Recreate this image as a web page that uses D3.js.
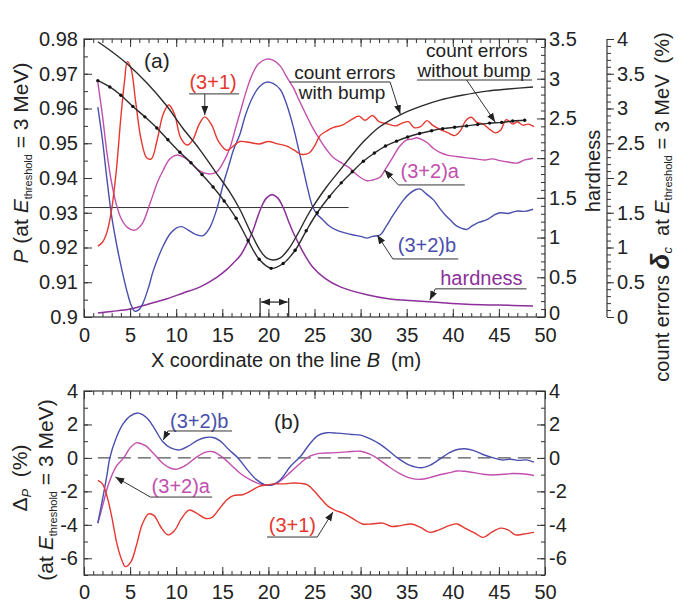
<!DOCTYPE html>
<html>
<head>
<meta charset="utf-8">
<script src="https://cdn.jsdelivr.net/npm/d3@7"></script>
<style>
  html, body { margin: 0; padding: 0; background: #fff; }
  svg text { font-family: "Liberation Sans", Arial, Helvetica, sans-serif; fill: #222; }
</style>
</head>
<body>
<svg id="chart" width="678" height="605"></svg>
<script>
// ---------- tick values ----------
const xTicks = [0, 5, 10, 15, 20, 25, 30, 35, 40, 45, 50];
const pTicks = [0.9, 0.91, 0.92, 0.93, 0.94, 0.95, 0.96, 0.97, 0.98];
const hardTicks = [0, 0.5, 1, 1.5, 2, 2.5, 3, 3.5];
const errTicks = [0, 0.5, 1, 1.5, 2, 2.5, 3, 3.5, 4];
const dTicks = [-6, -4, -2, 0, 2, 4];

// ---------- panel (a): P at E_threshold = 3 MeV, [X (m), P] ----------
const p31 = [[1.5,0.9204],[2,0.9215],[2.5,0.9245],[3,0.931],[3.5,0.942],[4,0.9575],[4.4,0.968],[4.7,0.9735],[5.1,0.9715],[5.6,0.962],[6.2,0.951],[6.8,0.9458],[7.3,0.9455],[7.9,0.9505],[8.6,0.9585],[9.2,0.961],[9.8,0.9585],[10.5,0.9515],[11.2,0.9495],[11.8,0.951],[12.5,0.9555],[13.1,0.9576],[13.8,0.9555],[14.6,0.9505],[15.5,0.948],[16.2,0.9492],[16.9,0.9505],[18,0.9502],[19,0.9498],[20,0.9505],[21,0.9498],[22,0.9492],[22.8,0.948],[23.6,0.9468],[24.4,0.9472],[25,0.9492],[25.6,0.9522],[26.3,0.9535],[27,0.9545],[28,0.9552],[29,0.9568],[29.8,0.9578],[30.5,0.9566],[31.3,0.958],[32,0.9562],[33,0.9555],[33.8,0.955],[34.5,0.9558],[35.2,0.9562],[35.8,0.9545],[36.5,0.9548],[37.2,0.9565],[37.8,0.9552],[38.6,0.954],[39.5,0.953],[40.2,0.9522],[40.8,0.9535],[41.4,0.9565],[42,0.9575],[42.6,0.956],[43.3,0.9555],[44,0.954],[44.6,0.953],[45.2,0.9538],[45.8,0.9568],[46.5,0.9555],[47,0.9562],[47.6,0.9552],[48.2,0.9555],[48.8,0.9548]];

const p32a = [[1.5,0.9675],[2,0.958],[2.5,0.947],[3,0.9385],[3.5,0.9325],[4,0.9285],[4.7,0.9258],[5.5,0.925],[6.3,0.9268],[7.2,0.933],[8,0.939],[8.6,0.9423],[9.3,0.9455],[10.1,0.9466],[10.8,0.946],[11.5,0.9446],[12.3,0.9425],[13.1,0.9414],[13.8,0.9412],[14.4,0.9418],[15,0.944],[15.8,0.9485],[16.4,0.954],[17,0.9595],[17.6,0.965],[18.2,0.9695],[18.9,0.9728],[19.8,0.9742],[20.6,0.9738],[21.3,0.9722],[22,0.969],[22.7,0.966],[23.4,0.962],[24.2,0.9576],[24.9,0.954],[25.6,0.951],[26.3,0.9482],[27,0.946],[28,0.9442],[28.8,0.9429],[29.8,0.9405],[30.7,0.9392],[31.4,0.9395],[32.1,0.9402],[32.8,0.943],[33.5,0.946],[34.2,0.949],[35,0.951],[35.6,0.9512],[36.1,0.9516],[36.7,0.951],[37.2,0.9502],[37.9,0.9485],[38.6,0.9474],[39.4,0.9466],[40.4,0.9462],[41.5,0.9458],[42.5,0.9455],[43.5,0.9452],[44.3,0.9455],[45.1,0.945],[46,0.9446],[47,0.9443],[47.8,0.9452],[48.7,0.9457]];

const p32b = [[1.5,0.9604],[2,0.951],[2.5,0.9394],[3,0.929],[3.6,0.92],[4.2,0.9125],[4.7,0.907],[5.1,0.9035],[5.5,0.9017],[6,0.9022],[6.4,0.904],[7,0.9085],[7.5,0.9132],[8.1,0.9175],[8.6,0.9205],[9.3,0.9238],[10,0.9256],[10.6,0.926],[11.3,0.925],[12.1,0.9238],[12.9,0.9234],[13.6,0.9255],[14.4,0.931],[15.1,0.9382],[15.7,0.9435],[16.2,0.948],[16.9,0.9525],[17.5,0.958],[18.3,0.9633],[19,0.9662],[19.8,0.9676],[20.5,0.9672],[21.3,0.9654],[22,0.961],[22.7,0.9547],[23.3,0.948],[23.8,0.9423],[24.3,0.9365],[24.8,0.9317],[25.3,0.9295],[25.9,0.928],[26.6,0.9262],[27.4,0.925],[28.3,0.9242],[29.2,0.9236],[30,0.9232],[30.7,0.9227],[31.3,0.9232],[32.1,0.9236],[32.8,0.9262],[33.4,0.9288],[33.9,0.9308],[34.6,0.9335],[35.3,0.9355],[36,0.9367],[36.5,0.9368],[37.1,0.9355],[37.9,0.9337],[38.6,0.9312],[39.2,0.9293],[39.7,0.928],[40.4,0.9262],[41,0.9255],[41.5,0.9252],[42.1,0.9262],[42.8,0.9272],[43.7,0.928],[44.4,0.9292],[45.1,0.93],[46,0.9298],[47,0.9305],[47.8,0.9304],[48.7,0.931]];

// hardness, [X, hardness]
const hardness = [[1.5,0.05],[3,0.07],[5,0.1],[7.2,0.17],[9,0.23],[10.7,0.3],[12.6,0.38],[14.4,0.5],[15.5,0.6],[16.2,0.68],[17,0.78],[17.7,0.93],[18.3,1.08],[18.8,1.25],[19.3,1.4],[19.8,1.5],[20.4,1.54],[21,1.5],[21.6,1.38],[22.2,1.2],[22.7,1.06],[23.3,0.92],[23.8,0.81],[24.8,0.63],[26.1,0.49],[27.8,0.38],[30.7,0.28],[33,0.23],[36.1,0.2],[41.5,0.16],[45,0.15],[48.7,0.14]];

// count errors delta_c (%), [X, delta_c]
const errWithBump = [[1.5,3.96],[3,3.82],[4.7,3.64],[6.8,3.37],[8.9,3.05],[10.7,2.72],[12.5,2.42],[14.2,2.1],[15.8,1.8],[16.9,1.55],[18,1.24],[19.1,0.96],[19.8,0.85],[20.5,0.82],[21.3,0.85],[22.2,0.98],[23.2,1.2],[24.2,1.45],[24.8,1.58],[26.3,1.87],[27.8,2.12],[29,2.32],[30.3,2.52],[32,2.73],[34.3,2.91],[36.5,3.03],[38.6,3.12],[41,3.19],[43.7,3.25],[46,3.28],[48.7,3.31]];

const errWithoutBump = [[1.5,3.4],[2.8,3.31],[4,3.19],[5.3,3.03],[6.6,2.88],[7.9,2.72],[9.1,2.55],[10.4,2.37],[11.6,2.22],[12.8,2.05],[14,1.87],[15.2,1.67],[16.5,1.42],[17.8,1.1],[19,0.83],[20.3,0.7],[21.6,0.77],[22.9,0.96],[24.1,1.24],[25.3,1.5],[26.6,1.73],[27.9,1.93],[29.1,2.09],[30.3,2.24],[31.5,2.36],[32.7,2.46],[33.9,2.53],[35.1,2.59],[36.4,2.64],[37.7,2.68],[38.9,2.71],[40.2,2.73],[41.5,2.75],[42.7,2.77],[44,2.79],[45.3,2.8],[46.5,2.82],[47.8,2.83]];

// reference level and bump extent
const pLevel = 0.9315;
const pLevelEnd = 28.7;
const bumpRange = [19.1, 22.2];

// ---------- panel (b): Delta P (%), [X, dP] ----------
const d32b = [[1.5,-3.9],[2,-2.5],[2.5,-1.0],[2.8,0],[3.5,1.2],[4.2,2.0],[5,2.5],[5.9,2.68],[6.8,2.4],[7.6,1.8],[8.5,1.0],[9.4,0.6],[10.4,0.48],[11.3,0.7],[12.3,1.05],[13.2,1.22],[14,1.22],[14.8,1.0],[15.7,0.5],[16.7,0],[17.7,-0.7],[18.7,-1.3],[19.6,-1.6],[20.4,-1.62],[21.3,-1.3],[22.4,-0.5],[23.5,0.1],[24.5,0.85],[25.4,1.35],[26.3,1.5],[27.5,1.48],[29,1.4],[30,1.36],[31,1.15],[32,0.85],[33,0.45],[34,0],[35,-0.35],[36,-0.55],[36.7,-0.58],[37.5,-0.45],[38.5,-0.1],[39.6,0.3],[40.5,0.5],[41.3,0.55],[42.2,0.45],[43.2,0.22],[44.4,0],[45.3,-0.12],[46.3,-0.08],[47.2,-0.15],[48,-0.12],[48.8,-0.25]];

const d32a = [[1.5,-3.9],[2,-2.9],[2.7,-1.5],[3.5,-0.5],[4.3,0],[5,0.6],[5.7,0.9],[6.6,0.75],[7.5,0.3],[8.5,-0.3],[9.4,-0.62],[10.1,-0.67],[11.1,-0.42],[12.2,0.05],[13.2,0.35],[14,0.37],[15,0.05],[16,-0.45],[17,-0.95],[18,-1.3],[19.2,-1.58],[20.2,-1.62],[21.2,-1.4],[22.4,-0.85],[23.5,-0.3],[24.5,0.1],[25.5,0.27],[27,0.3],[28.5,0.36],[30,0.4],[31,0.22],[32,-0.1],[33,-0.5],[34.2,-0.92],[35.5,-1.22],[36.5,-1.28],[37.5,-1.18],[38.5,-1.02],[39.7,-0.88],[40.5,-0.78],[41.3,-0.8],[42.3,-0.88],[43.3,-0.98],[44.4,-1.02],[45.5,-0.98],[46.5,-0.93],[47.5,-0.95],[48.8,-1.05]];

const d31 = [[1.5,-1.35],[2,-1.55],[2.5,-2.3],[3,-3.5],[3.6,-5.2],[4.1,-6.1],[4.5,-6.5],[5.1,-6.2],[5.7,-5.2],[6.3,-4.0],[7,-3.35],[7.6,-3.45],[8.3,-4.1],[9.1,-4.6],[9.8,-4.35],[10.6,-3.6],[11.4,-3.12],[12.2,-3.3],[13.2,-3.62],[13.9,-3.55],[14.6,-3.1],[15.5,-2.5],[16.2,-2.25],[17.2,-2.2],[18,-2.0],[19,-1.7],[19.8,-1.62],[20.8,-1.55],[21.8,-1.55],[22.7,-1.5],[23.5,-1.52],[24.2,-1.6],[25,-2.0],[25.8,-2.5],[26.5,-2.9],[27.3,-3.15],[28.1,-3.3],[29.2,-3.65],[30.2,-3.95],[31.2,-3.95],[32.4,-3.9],[33.4,-4.1],[34.3,-4.05],[35.5,-3.95],[36.5,-4.15],[37.5,-4.45],[38.5,-4.3],[39.6,-4.05],[40.5,-3.95],[41.3,-4.2],[42.4,-4.5],[43.3,-4.75],[44.2,-4.45],[45.2,-4.2],[46,-4.3],[46.8,-4.6],[47.7,-4.55],[48.8,-4.45]];

// ---------- colours ----------
const C = { red: "#e6372f", mag: "#c24fae", blue: "#4a4fae", purp: "#8c2f9a", black: "#2b2b2b" };

// ---------- scales ----------
const x  = d3.scaleLinear().domain([0, 50]).range([84, 545]);
const yP = d3.scaleLinear().domain([0.9, 0.98]).range([317, 39]);
const yH = d3.scaleLinear().domain([0, 3.5]).range([317, 39]);
const yE = d3.scaleLinear().domain([0, 4]).range([317, 39]);
const yD = d3.scaleLinear().domain([-7, 4]).range([575, 391]);

const svg = d3.select("#chart");

const defs = svg.append("defs");
defs.append("marker").attr("id", "ah").attr("markerUnits", "userSpaceOnUse")
  .attr("markerWidth", 10).attr("markerHeight", 8).attr("refX", 9).attr("refY", 3.5)
  .attr("orient", "auto-start-reverse")
  .append("path").attr("d", "M0,0 L9,3.5 L0,7 Z").attr("fill", "#222");

// ---------- axes helpers ----------
function styleAxis(g, fontSize) {
  g.select(".domain").remove();
  g.selectAll("line").attr("stroke", "#333").attr("stroke-width", 1);
  g.selectAll("text").attr("font-size", fontSize).attr("fill", "#222");
}
function addAxis(parent, axis, tr, fontSize) {
  const g = parent.append("g").attr("transform", tr).call(axis);
  styleAxis(g, fontSize || 20);
  return g;
}
const fmt = d => String(d);
const noLab = () => "";

function xAxes(parent, yTop, yBot, pad) {
  addAxis(parent, d3.axisBottom(x).tickValues(d3.range(0, 51, 1)).tickSize(-4).tickFormat(noLab), `translate(0,${yBot})`);
  addAxis(parent, d3.axisBottom(x).tickValues(xTicks).tickSizeInner(-8).tickSizeOuter(0).tickPadding(pad).tickFormat(fmt), `translate(0,${yBot})`);
  addAxis(parent, d3.axisTop(x).tickValues(d3.range(0, 51, 1)).tickSize(-4).tickFormat(noLab), `translate(0,${yTop})`);
  addAxis(parent, d3.axisTop(x).tickValues(xTicks).tickSize(-8).tickFormat(noLab), `translate(0,${yTop})`);
}

const gA = svg.append("g");
const gB = svg.append("g");

// ---------- panel (a) curves ----------
const smooth = d3.curveCatmullRom.alpha(0.5);
const lineP = d3.line().x(d => x(d[0])).y(d => yP(d[1])).curve(smooth);
const lineH = d3.line().x(d => x(d[0])).y(d => yH(d[1])).curve(smooth);
const lineE = d3.line().x(d => x(d[0])).y(d => yE(d[1])).curve(smooth);
const lineD = d3.line().x(d => x(d[0])).y(d => yD(d[1])).curve(smooth);

gA.append("line").attr("x1", x(0)).attr("x2", x(pLevelEnd)).attr("y1", yP(pLevel)).attr("y2", yP(pLevel))
  .attr("stroke", "#333").attr("stroke-width", 1);

gA.append("path").attr("d", lineH(hardness)).attr("fill", "none").attr("stroke", C.purp).attr("stroke-width", 1.5);
gA.append("path").attr("d", lineP(p32a)).attr("fill", "none").attr("stroke", C.mag).attr("stroke-width", 1.4);
gA.append("path").attr("d", lineP(p32b)).attr("fill", "none").attr("stroke", C.blue).attr("stroke-width", 1.4);
gA.append("path").attr("d", lineP(p31)).attr("fill", "none").attr("stroke", C.red).attr("stroke-width", 1.4);
gA.append("path").attr("d", lineE(errWithBump)).attr("fill", "none").attr("stroke", C.black).attr("stroke-width", 1.4);
gA.append("path").attr("d", lineE(errWithoutBump)).attr("fill", "none").attr("stroke", C.black).attr("stroke-width", 1.4);
gA.selectAll("circle.dot").data(errWithoutBump).join("circle").attr("class", "dot")
  .attr("cx", d => x(d[0])).attr("cy", d => yE(d[1])).attr("r", 1.7).attr("fill", "#111");

// bump extent bracket
const bTop = yP(0.9055), bArrow = yP(0.9043);
bumpRange.forEach(v => gA.append("line").attr("x1", x(v)).attr("x2", x(v)).attr("y1", yP(0.9)).attr("y2", bTop)
  .attr("stroke", "#222").attr("stroke-width", 1.2));
gA.append("line").attr("x1", x(bumpRange[0]) + 1).attr("x2", x(bumpRange[1]) - 1).attr("y1", bArrow).attr("y2", bArrow)
  .attr("stroke", "#222").attr("stroke-width", 1.2)
  .attr("marker-start", "url(#ah)").attr("marker-end", "url(#ah)");

// frame + axes (a)
gA.append("rect").attr("x", x(0)).attr("y", yP(0.98)).attr("width", x(50) - x(0)).attr("height", yP(0.9) - yP(0.98))
  .attr("fill", "none").attr("stroke", "#333").attr("stroke-width", 1.2);
xAxes(gA, yP(0.98), yP(0.9), 11);
addAxis(gA, d3.axisLeft(yP).tickValues(d3.range(0, 17).map(i => 0.9 + i * 0.005)).tickSize(-4).tickFormat(noLab), `translate(${x(0)},0)`);
addAxis(gA, d3.axisLeft(yP).tickValues(pTicks).tickSizeInner(-8).tickSizeOuter(0).tickPadding(6).tickFormat(fmt), `translate(${x(0)},0)`);
addAxis(gA, d3.axisRight(yH).tickValues(d3.range(0, 36).map(i => i * 0.1)).tickSize(-4).tickFormat(noLab), `translate(${x(50)},0)`);
const hAx = addAxis(gA, d3.axisRight(yH).tickValues(hardTicks).tickSizeInner(-8).tickSizeOuter(0).tickPadding(4).tickFormat(fmt), `translate(${x(50)},0)`);
hAx.selectAll("text").filter(d => d === 0).attr("dy", "0.1em");

// separate count-error axis
const eAx = 607;
gA.append("line").attr("x1", eAx).attr("x2", eAx).attr("y1", yE(0)).attr("y2", yE(4)).attr("stroke", "#333").attr("stroke-width", 1.2);
addAxis(gA, d3.axisRight(yE).tickValues(d3.range(0, 41).map(i => i * 0.1)).tickSize(4).tickFormat(noLab), `translate(${eAx},0)`);
addAxis(gA, d3.axisRight(yE).tickValues(errTicks).tickSizeInner(7).tickSizeOuter(0).tickPadding(3).tickFormat(fmt), `translate(${eAx},0)`);

// ---------- panel (b) ----------
gB.append("line").attr("x1", x(1.5)).attr("x2", x(49)).attr("y1", yD(0)).attr("y2", yD(0))
  .attr("stroke", "#555").attr("stroke-width", 1.3).attr("stroke-dasharray", "13,7");
gB.append("path").attr("d", lineD(d32a)).attr("fill", "none").attr("stroke", C.mag).attr("stroke-width", 1.4);
gB.append("path").attr("d", lineD(d32b)).attr("fill", "none").attr("stroke", C.blue).attr("stroke-width", 1.4);
gB.append("path").attr("d", lineD(d31)).attr("fill", "none").attr("stroke", C.red).attr("stroke-width", 1.4);

gB.append("rect").attr("x", x(0)).attr("y", yD(4)).attr("width", x(50) - x(0)).attr("height", yD(-7) - yD(4))
  .attr("fill", "none").attr("stroke", "#333").attr("stroke-width", 1.2);
xAxes(gB, yD(4), yD(-7), 10);
addAxis(gB, d3.axisLeft(yD).tickValues(d3.range(-7, 5, 1)).tickSize(-4).tickFormat(noLab), `translate(${x(0)},0)`);
addAxis(gB, d3.axisLeft(yD).tickValues(dTicks).tickSizeInner(-8).tickSizeOuter(0).tickPadding(6).tickFormat(fmt), `translate(${x(0)},0)`);
addAxis(gB, d3.axisRight(yD).tickValues(d3.range(-7, 5, 1)).tickSize(-4).tickFormat(noLab), `translate(${x(50)},0)`);
addAxis(gB, d3.axisRight(yD).tickValues(dTicks).tickSizeInner(-8).tickSizeOuter(0).tickPadding(4).tickFormat(fmt), `translate(${x(50)},0)`);

// ---------- annotations: text over an underline, leader arrow to the curve ----------
function annotate(g, ys, a) {
  const t = g.append("text").attr("text-anchor", "middle").attr("font-size", a.fs || 20).style("fill", a.color);
  a.lines.forEach(l => t.append("tspan").attr("x", x(l[0])).attr("y", ys(l[1])).text(l[2]));
  g.append("line").attr("x1", x(a.under[0])).attr("x2", x(a.under[1])).attr("y1", ys(a.under[2])).attr("y2", ys(a.under[2]))
    .attr("stroke", "#333").attr("stroke-width", 1);
  g.append("line").attr("x1", x(a.from[0])).attr("y1", ys(a.from[1])).attr("x2", x(a.tip[0])).attr("y2", ys(a.tip[1]))
    .attr("stroke", "#333").attr("stroke-width", 1).attr("marker-end", "url(#ah)");
}

annotate(gA, yP, { color: C.red, lines: [[14.0, 0.9656, "(3+1)"]], under: [11.4, 16.8, 0.9642], from: [13.1, 0.9642], tip: [13.1, 0.9581] });
annotate(gA, yP, { color: "#222", fs: 19, lines: [[28.3, 0.9685, "count errors"], [28.0, 0.9628, "with bump"]], under: [22.3, 33.2, 0.96763], from: [33.2, 0.96763], tip: [34.3, 0.9584] });
annotate(gA, yP, { color: "#222", fs: 19, lines: [[42.6, 0.9749, "count errors"], [42.3, 0.9690, "without bump"]], under: [36.1, 48.6, 0.9682], from: [41.5, 0.9682], tip: [44.6, 0.9561] });
annotate(gA, yP, { color: C.mag, lines: [[37.5, 0.9400, "(3+2)a"]], under: [34.1, 41.3, 0.9380], from: [34.1, 0.9380], tip: [32.6, 0.9423] });
annotate(gA, yP, { color: C.blue, lines: [[37.2, 0.9187, "(3+2)b"]], under: [33.5, 40.6, 0.9167], from: [33.5, 0.9167], tip: [31.8, 0.9236] });
annotate(gA, yP, { color: C.purp, lines: [[43.1, 0.9092, "hardness"]], under: [38.1, 48.0, 0.9081], from: [38.1, 0.9081], tip: [37.5, 0.9049] });

annotate(gB, yD, { color: C.blue, lines: [[12.5, 1.79, "(3+2)b"]], under: [9.1, 16.05, 1.61], from: [9.1, 1.61], tip: [8.6, 1.07] });
annotate(gB, yD, { color: C.mag, lines: [[10.5, -2.10, "(3+2)a"]], under: [7.2, 13.9, -2.34], from: [7.2, -2.34], tip: [3.4, -1.14] });
annotate(gB, yD, { color: C.red, lines: [[22.6, -4.43, "(3+1)"]], under: [19.85, 25.3, -4.73], from: [25.3, -4.73], tip: [27.0, -3.23] });

gA.append("text").attr("x", x(7.9)).attr("y", yP(0.97165)).attr("text-anchor", "middle").attr("font-size", 21).text("(a)");
gB.append("text").attr("x", x(22.0)).attr("y", yD(1.73)).attr("text-anchor", "middle").attr("font-size", 21).text("(b)");

// ---------- axis titles ----------
function rotTitle(px, py, parts, size) {
  const t = svg.append("text").attr("transform", `translate(${px},${py}) rotate(-90)`)
    .attr("text-anchor", "middle").attr("font-size", size);
  parts.forEach(p => {
    const s = t.append("tspan").text(p.t);
    if (p.i) s.attr("font-style", "italic");
    if (p.b) s.attr("font-weight", "bold");
    if (p.fs) s.attr("font-size", p.fs);
    if (p.dy) s.attr("dy", p.dy);
  });
  return t;
}

rotTitle(28, 163, [
  { t: "P", i: 1 }, { t: "\u00a0(at\u00a0" }, { t: "E", i: 1 },
  { t: "threshold", fs: 11, dy: 4 }, { t: "\u00a0=\u00a03\u00a0MeV)", dy: -4 }
], 21);

const xt = svg.append("text").attr("x", 286).attr("y", 367).attr("text-anchor", "middle").attr("font-size", 20);
xt.append("tspan").text("X coordinate on the line\u00a0");
xt.append("tspan").attr("font-style", "italic").text("B");
xt.append("tspan").text("\u00a0\u00a0(m)");

rotTitle(600, 171, [{ t: "hardness" }], 20);

rotTitle(669, 207, [
  { t: "count errors\u00a0" }, { t: "\u03b4", i: 1, b: 1, fs: 26 }, { t: "c", i: 1, fs: 13, dy: 3 },
  { t: "\u00a0\u00a0at\u00a0", dy: -3 }, { t: "E", i: 1 }, { t: "threshold", fs: 11, dy: 3 },
  { t: "\u00a0=\u00a03\u00a0MeV\u00a0\u00a0(%)", dy: -3 }
], 20);

rotTitle(27, 478, [
  { t: "\u0394", fs: 21 }, { t: "P", i: 1, fs: 13, dy: 4 }, { t: "\u00a0\u00a0(%)", dy: -4 }
], 21);
rotTitle(53, 490, [
  { t: "(at\u00a0" }, { t: "E", i: 1 }, { t: "threshold", fs: 11, dy: 4 }, { t: "\u00a0=\u00a03\u00a0MeV)", dy: -4 }
], 21);
</script>
</body>
</html>
